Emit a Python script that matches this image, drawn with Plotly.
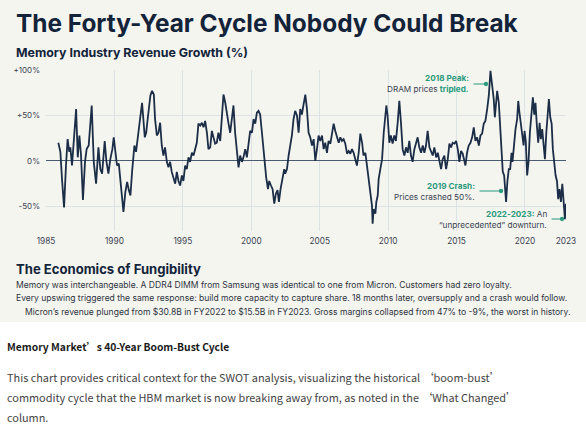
import plotly.graph_objects as go

# ---------------- DATA ----------------
years = [
    1985.9, 1986.05, 1986.17, 1986.32, 1986.46, 1986.58, 1986.7, 1986.78, 1986.9, 1987.02,
    1987.2, 1987.32, 1987.44, 1987.56, 1987.7, 1987.85, 1987.97, 1988.12, 1988.34, 1988.49,
    1988.66, 1988.83, 1988.97, 1989.1, 1989.29, 1989.41, 1989.56, 1989.7, 1989.85, 1989.95,
    1990.07, 1990.19, 1990.32, 1990.41, 1990.51, 1990.66, 1990.8, 1990.93, 1991.05, 1991.17,
    1991.29, 1991.46, 1991.58, 1991.73, 1991.9, 1992.02, 1992.22, 1992.32, 1992.46, 1992.63,
    1992.75, 1992.88, 1992.97, 1993.1, 1993.22, 1993.34, 1993.46, 1993.58, 1993.7, 1993.83,
    1993.95, 1994.07, 1994.19, 1994.31, 1994.44, 1994.56, 1994.68, 1994.8, 1994.93, 1995.04,
    1995.17, 1995.29, 1995.41, 1995.53, 1995.66, 1995.78, 1995.9, 1996.02, 1996.14, 1996.27,
    1996.39, 1996.51, 1996.63, 1996.76, 1996.87, 1997.0, 1997.12, 1997.24, 1997.36, 1997.48,
    1997.6, 1997.73, 1997.85, 1997.97, 1998.1, 1998.22, 1998.34, 1998.46, 1998.58, 1998.7,
    1998.82, 1998.95, 1999.07, 1999.19, 1999.32, 1999.43, 1999.56, 1999.68, 1999.8, 1999.92,
    2000.05, 2000.17, 2000.29, 2000.41, 2000.53, 2000.65, 2000.78, 2000.9, 2001.02, 2001.09,
    2001.22, 2001.31, 2001.44, 2001.56, 2001.68, 2001.8, 2001.92, 2002.02, 2002.14, 2002.29,
    2002.41, 2002.48, 2002.61, 2002.73, 2002.83, 2002.97, 2003.09, 2003.21, 2003.34, 2003.46,
    2003.58, 2003.7, 2003.82, 2003.95, 2004.07, 2004.19, 2004.31, 2004.44, 2004.56, 2004.68,
    2004.8, 2004.92, 2005.04, 2005.17, 2005.29, 2005.41, 2005.53, 2005.65, 2005.78, 2005.9,
    2006.02, 2006.14, 2006.27, 2006.39, 2006.51, 2006.63, 2006.75, 2006.87, 2007.0, 2007.12,
    2007.24, 2007.36, 2007.48, 2007.6, 2007.72, 2007.85, 2007.97, 2008.1, 2008.2, 2008.34,
    2008.46, 2008.58, 2008.7, 2008.82, 2008.87, 2008.94, 2009.07, 2009.14, 2009.24, 2009.31,
    2009.43, 2009.56, 2009.68, 2009.8, 2009.87, 2009.96, 2010.09, 2010.2, 2010.33, 2010.45,
    2010.57, 2010.7, 2010.82, 2010.94, 2011.06, 2011.19, 2011.31, 2011.43, 2011.55, 2011.67,
    2011.79, 2011.92, 2012.04, 2012.16, 2012.28, 2012.41, 2012.53, 2012.65, 2012.77, 2012.89,
    2013.02, 2013.14, 2013.26, 2013.38, 2013.51, 2013.63, 2013.75, 2013.87, 2013.99, 2014.11,
    2014.24, 2014.36, 2014.48, 2014.6, 2014.72, 2014.85, 2014.97, 2015.09, 2015.21, 2015.33,
    2015.45, 2015.58, 2015.65, 2015.77, 2015.89, 2016.02, 2016.14, 2016.26, 2016.38, 2016.5,
    2016.63, 2016.75, 2016.87, 2016.99, 2017.11, 2017.24, 2017.36, 2017.48, 2017.6, 2017.72,
    2017.8, 2017.9, 2017.97, 2018.09, 2018.21, 2018.28, 2018.38, 2018.48, 2018.55, 2018.62,
    2018.72, 2018.82, 2018.92, 2019.02, 2019.09, 2019.19, 2019.31, 2019.43, 2019.51, 2019.6,
    2019.7, 2019.8, 2019.9, 2019.97, 2020.06, 2020.16, 2020.26, 2020.36, 2020.48, 2020.58,
    2020.68, 2020.77, 2020.87, 2020.97, 2021.07, 2021.16, 2021.26, 2021.36, 2021.46, 2021.56,
    2021.65, 2021.75, 2021.85, 2021.95, 2022.04, 2022.14, 2022.24, 2022.34, 2022.43, 2022.53,
    2022.63, 2022.73, 2022.82, 2022.92, 2022.99,
]
growth_pct = [
    20, 10, -20, -51, -5, 24, 10, 15, -5, 20,
    57, 4, 28, 6, -43, -1, 13, 17, 61, -1,
    -25, 15, -9, -14, 22, 0, -14, 2, 13, 26,
    13, -5, -3, -16, -34, -56, -34, -23, -32, -38,
    -12, 17, 10, 28, 50, 64, 26, 31, 50, 72,
    77, 73, 46, 28, 31, 42, 17, 6, 15, -1,
    -7, -1, -12, -20, -25, -12, -22, -27, -16, -22,
    -5, -9, 4, -1, 9, 6, 15, 20, 41, 39,
    42, 37, 44, 31, 13, 15, 33, 26, 19, 20,
    31, 22, 50, 73, 64, 50, 41, 31, 50, 61,
    31, 9, -7, 6, -1, 4, 13, 4, 17, 33,
    31, 46, 41, 53, 55, 51, 31, 9, -5, -18,
    -31, -22, -27, -31, -47, -36, -32, -45, -31, -18,
    -9, -14, -9, 6, 15, 28, 46, 55, 50, 31,
    57, 51, 62, 73, 57, 31, 26, 17, 24, 0,
    13, 28, 22, 28, 13, 20, 9, 22, 19, 28,
    41, 33, 26, 20, 26, 22, 24, 19, 8, 11,
    8, 13, 9, 0, -5, 9, 30, 20, 6, 9,
    -5, -16, -31, -49, -69, -53, -58, -45, -38, -20,
    -9, 2, 31, 50, 61, 50, 20, 28, 19, 28,
    22, 42, 66, 42, 13, 6, 15, 9, 22, 6,
    -1, 13, 20, 26, 15, 9, 17, 9, 17, 33,
    15, 11, 6, 15, 4, 9, -1, -9, 2, 6,
    -9, 2, 19, 15, 20, 19, 22, 13, -1, 11,
    8, 0, -5, 9, 17, 20, 26, 37, 22, 26,
    17, 28, 30, 41, 44, 57, 72, 99, 86, 68,
    48, 64, 77, 64, 31, 9, -12, -16, -31, -45,
    -22, -9, -9, 9, -1, 17, 35, 46, 66, 53,
    42, 28, 17, 33, 22, -16, -1, 31, 50, 70,
    51, 64, 39, 20, 42, 24, 35, 20, 2, 31,
    46, 68, 48, 41, 13, -1, -16, -22, -42, -31,
    -45, -25, -49, -64, -47,
]
x_ticks = [1985, 1990, 1995, 2000, 2005, 2010, 2015, 2020, 2023]
x_tick_labels = ["1985", "1990", "1995", "2000", "2005", "2010", "2015", "2020", "2023"]
y_ticks = [-50, 0, 50, 100]
y_tick_labels = ["-50%", "0%", "+50%", "+100%"]

# ---------------- STYLE ----------------
W, H = 586, 438
BG = "#f5f5f0"
NAVY = "#13243a"
LINE = "#1b2d47"
TEAL = "#2a9a7c"
GRID = "#dde2e7"
BODY = "#2e3440"
ANN_TXT = "#3a4250"
FONT = "Inter, Roboto, sans-serif"
CJK = "Noto Sans CJK SC, Noto Sans, sans-serif"


def px(x):
    return x / W


def py(y):
    return 1 - y / H


fig = go.Figure()
fig.add_trace(go.Scatter(
    x=years, y=growth_pct, mode="lines",
    line=dict(color=LINE, width=1.8),
    hoverinfo="skip", showlegend=False,
))

ann = []


def text(x, y, s, size, color, anchor="left", family=FONT):
    ann.append(dict(
        x=px(x), y=py(y), xref="paper", yref="paper", text=s, showarrow=False,
        xanchor=anchor, yanchor="middle", align=anchor, borderpad=0, borderwidth=0,
        font=dict(size=size, color=color, family=family),
    ))


def arrow(x_end, x_start, y):
    ann.append(dict(
        x=px(x_end), y=py(y), xref="paper", yref="paper", text="",
        showarrow=True, ax=x_start - x_end, ay=0, axref="pixel", ayref="pixel",
        arrowhead=6, arrowsize=0.9, arrowwidth=1.2, arrowcolor=TEAL,
        standoff=0, startstandoff=0,
    ))


# Titles
text(16, 23, "<b>The Forty-Year Cycle Nobody Could Break</b>", 24.4, NAVY)
text(16, 53, "<b>Memory Industry Revenue Growth (%)</b>", 12.4, NAVY)

# Chart annotations
text(469, 78.5, "<b>2018 Peak:</b>", 8.2, TEAL, "right")
text(469, 89, f"DRAM prices <b><span style='color:{TEAL}'>tripled.</span></b>", 8.2, ANN_TXT, "right")
arrow(486, 472, 84)

text(475, 186, "<b>2019 Crash:</b>", 8.2, TEAL, "right")
text(475, 196.5, "Prices crashed 50%.", 8.2, ANN_TXT, "right")
arrow(501, 478, 191)

text(547, 214, f"<b>2022-2023:</b><span style='color:{ANN_TXT}'> An</span>", 8.2, TEAL, "right")
text(547, 224.5, "“unprecedented” downturn.", 8.2, ANN_TXT, "right")
arrow(562, 550, 219)

# Economics section
text(16, 268.5, "<b>The Economics of Fungibility</b>", 13.1, NAVY)
text(16, 284.5, "Memory was interchangeable. A DDR4 DIMM from Samsung was identical to one from Micron. Customers had zero loyalty.", 8.55, BODY)
text(16, 298, "Every upswing triggered the same response: build more capacity to capture share. 18 months later, oversupply and a crash would follow.", 8.55, BODY)
text(297, 311.5, "Micron’s revenue plunged from $30.8B in FY2022 to $15.5B in FY2023. Gross margins collapsed from 47% to -9%, the worst in history.", 8.55, BODY, "center")

# Caption below the image
text(7, 346, "<b>Memory Market’s 40-Year Boom-Bust Cycle</b>", 10.3, "#1a1a1a", family=CJK)
text(7, 377, "This chart provides critical context for the SWOT analysis, visualizing the historical ‘boom-bust’", 10.9, "#444444", family=CJK)
text(7, 397, "commodity cycle that the HBM market is now breaking away from, as noted in the ‘What Changed’", 10.9, "#444444", family=CJK)
text(7, 417, "column.", 10.9, "#444444", family=CJK)

fig.update_layout(
    width=W, height=H, margin=dict(l=0, r=0, t=0, b=0),
    paper_bgcolor="white", plot_bgcolor="rgba(0,0,0,0)",
    annotations=ann,
    shapes=[dict(type="rect", xref="paper", yref="paper", x0=0, x1=1,
                 y0=py(322), y1=1, fillcolor=BG, line=dict(width=0), layer="below")],
    xaxis=dict(
        domain=[px(46), px(566)], range=[1985, 2023], automargin=False,
        tickvals=x_ticks, ticktext=x_tick_labels,
        showgrid=True, gridcolor=GRID, gridwidth=1, zeroline=False,
        showline=False, ticks="", ticklabelstandoff=4,
        tickfont=dict(size=8.3, color=ANN_TXT, family=FONT),
    ),
    yaxis=dict(
        domain=[py(231), py(70)], range=[-77, 100], automargin=False,
        tickvals=y_ticks, ticktext=y_tick_labels,
        showgrid=True, gridcolor=GRID, gridwidth=1,
        zeroline=True, zerolinecolor="#4a5a70", zerolinewidth=1,
        showline=False, ticks="", ticklabelstandoff=5,
        tickfont=dict(size=8, color=ANN_TXT, family=FONT),
    ),
    showlegend=False,
)

fig.write_html("out.html")
